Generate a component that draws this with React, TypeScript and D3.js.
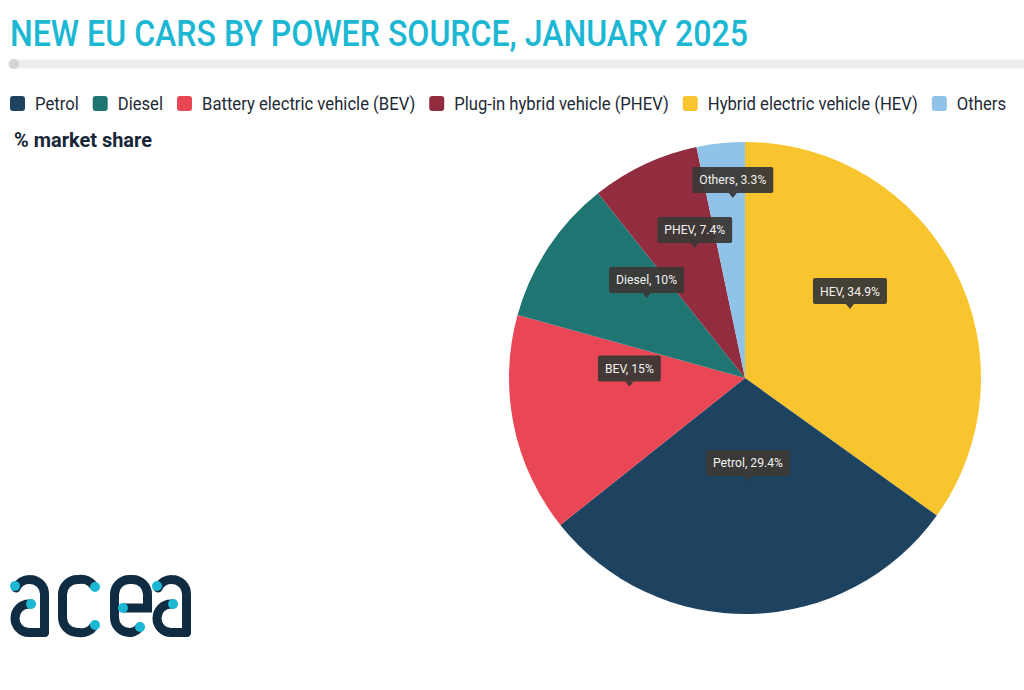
import React, { useEffect, useRef } from 'react';
import * as d3 from 'd3';

// pie order, clockwise from 12 o'clock
const categories = ['HEV', 'Petrol', 'BEV', 'Diesel', 'PHEV', 'Others'];
const shares = [34.9, 29.4, 15, 10, 7.4, 3.3];
const sliceColors = ['#f9c52f', '#1d4360', '#e94656', '#1e7572', '#922c3f', '#8fc3e8'];

// legend order
const legendKeys = ['Petrol', 'Diesel', 'BEV', 'PHEV', 'HEV', 'Others'];
const legendNames = [
    'Petrol',
    'Diesel',
    'Battery electric vehicle (BEV)',
    'Plug-in hybrid vehicle (PHEV)',
    'Hybrid electric vehicle (HEV)',
    'Others',
];

const title = 'NEW EU CARS BY POWER SOURCE, JANUARY 2025';
const subtitle = '% market share';

const W = 1024;
const H = 690;
const CYAN = '#1bb7d3';
const NAVY = '#0f2c42';

function condense(node: SVGTextElement, k: number) {
    const w = node.getComputedTextLength();
    node.setAttribute('textLength', String(w * k));
    node.setAttribute('lengthAdjust', 'spacingAndGlyphs');
    return w * k;
}

export default function App() {
    const svgRef = useRef<SVGSVGElement>(null);

    useEffect(() => {
        if (!svgRef.current) return;
        const svg = d3.select(svgRef.current);
        svg.selectAll('*').remove();

        svg.append('rect').attr('width', W).attr('height', H).attr('fill', '#fff');

        // Title
        svg.append('text')
            .attr('x', 10)
            .attr('y', 46)
            .attr('font-family', 'Roboto')
            .attr('font-weight', 500)
            .attr('font-size', 36)
            .attr('fill', CYAN)
            .attr('textLength', 738)
            .attr('lengthAdjust', 'spacingAndGlyphs')
            .text(title);

        // grey rule
        svg.append('rect')
            .attr('x', 8).attr('y', 59.5).attr('width', W).attr('height', 9)
            .attr('rx', 4.5).attr('fill', '#eeeeee');
        svg.append('circle').attr('cx', 14).attr('cy', 64).attr('r', 5).attr('fill', '#d3d3d3');

        // Legend
        const colorOf = (key: string) => sliceColors[categories.indexOf(key)];
        const legend = svg.append('g');
        const texts: SVGTextElement[] = [];
        legendNames.forEach(name => {
            const t = legend.append('text')
                .attr('font-family', 'Roboto')
                .attr('font-size', 18)
                .attr('fill', '#1e2a36')
                .attr('y', 110)
                .text(name);
            texts.push(t.node()!);
        });
        const natural = texts.map(t => t.getComputedTextLength());
        const sq = 15, gapIn = 10, gapOut = 14;
        const avail = 996 - legendNames.length * (sq + gapIn) - (legendNames.length - 1) * gapOut;
        const k = avail / d3.sum(natural);
        let lx = 10;
        legendKeys.forEach((key, i) => {
            legend.append('rect')
                .attr('x', lx).attr('y', 96).attr('width', sq).attr('height', sq)
                .attr('rx', 3).attr('fill', colorOf(key));
            lx += sq + gapIn;
            d3.select(texts[i]).attr('x', lx);
            lx += condense(texts[i], k) + gapOut;
        });

        // subtitle
        const sub = svg.append('text')
            .attr('x', 14).attr('y', 147)
            .attr('font-family', 'Roboto').attr('font-weight', 700)
            .attr('font-size', 21).attr('fill', '#172636')
            .text(subtitle);
        condense(sub.node()!, 0.95);

        // Pie
        const cx = 745, cy = 378, R = 236;
        const pie = d3.pie<number>().sort(null).value(d => d);
        const arcs = pie(shares);
        const arc = d3.arc<d3.PieArcDatum<number>>().innerRadius(0).outerRadius(R);
        const pg = svg.append('g').attr('transform', `translate(${cx},${cy})`);
        pg.selectAll('path')
            .data(arcs)
            .join('path')
            .attr('d', arc)
            .attr('fill', (d, i) => sliceColors[i]);

        // Labels (tooltip style), pushed upward when they would collide
        const boxH = 26, tipH = 5, lift = 15, margin = 24;
        type Box = { x: number; w: number; bottom: number };
        const placed: Box[] = [];
        arcs.forEach((a, i) => {
            const [ax, ay] = arc.centroid(a);
            const g = pg.append('g');
            const t = g.append('text')
                .attr('font-family', 'Roboto').attr('font-size', 13.5)
                .attr('fill', '#f2f2f2').attr('text-anchor', 'middle')
                .text(`${categories[i]}, ${shares[i]}%`);
            const tw = condense(t.node()!, 0.9);
            const w = tw + 14;
            const box: Box = { x: ax, w, bottom: ay - lift - tipH };
            let moved = true;
            while (moved) {
                moved = false;
                for (const p of placed) {
                    const hOverlap = Math.abs(p.x - box.x) < (p.w + box.w) / 2;
                    const top = box.bottom - boxH, pTop = p.bottom - boxH;
                    const vOverlap = box.bottom + margin > pTop && top - margin < p.bottom;
                    if (hOverlap && vOverlap) {
                        box.bottom = pTop - margin;
                        moved = true;
                    }
                }
            }
            placed.push(box);
            const tipY = box.bottom + tipH;
            g.insert('rect', 'text')
                .attr('x', box.x - w / 2).attr('y', box.bottom - boxH)
                .attr('width', w).attr('height', boxH)
                .attr('rx', 2).attr('fill', '#3b3936').attr('fill-opacity', 0.95);
            g.insert('path', 'text')
                .attr('d', `M${box.x - 4},${box.bottom} L${box.x},${tipY} L${box.x + 4},${box.bottom} Z`)
                .attr('fill', '#3b3936').attr('fill-opacity', 0.95);
            t.attr('x', box.x).attr('y', box.bottom - 8.5);
        });

        // acea logo
        const logo = svg.append('g').attr('fill', 'none').attr('stroke', NAVY)
            .attr('stroke-width', 9).attr('stroke-linecap', 'round');
        const aPath = (dx: number) => [
            `M${16 + dx},588 A15,15 0 0 1 ${30 + dx},579.5 A14.5,14.5 0 0 1 ${44.5 + dx},594 V632.5`,
            `M${31 + dx},604 H${29 + dx} A14,14.25 0 0 0 ${29 + dx},632.5 H${44.5 + dx}`,
        ];
        const paths = [
            ...aPath(0),
            'M94,586 A15,15 0 0 0 79,579.5 H77.5 A15,15 0 0 0 62.5,594.5 V617.5 A15,15 0 0 0 77.5,632.5 H79 A15,15 0 0 0 94,626',
            'M124,608 H147.5 V594.5 A15,15 0 0 0 132.5,579.5 H129.5 A15,15 0 0 0 114.5,594.5 V617.5 A15,15 0 0 0 129.5,632.5 H131 A15,15 0 0 0 140,627',
            ...aPath(142),
        ];
        paths.forEach(p => logo.append('path').attr('d', p));
        const dots = [[15, 586], [31, 604], [95, 587], [95, 625], [123, 608], [140, 627], [157, 586], [173, 604]];
        svg.append('g').selectAll('circle').data(dots).join('circle')
            .attr('cx', d => d[0]).attr('cy', d => d[1]).attr('r', 5).attr('fill', CYAN);
    }, []);

    return (
        <div style={{ position: 'absolute', left: 0, top: 0, width: W, height: H }}>
            <svg ref={svgRef} width={W} height={H} style={{ display: 'block' }} />
        </div>
    );
}
